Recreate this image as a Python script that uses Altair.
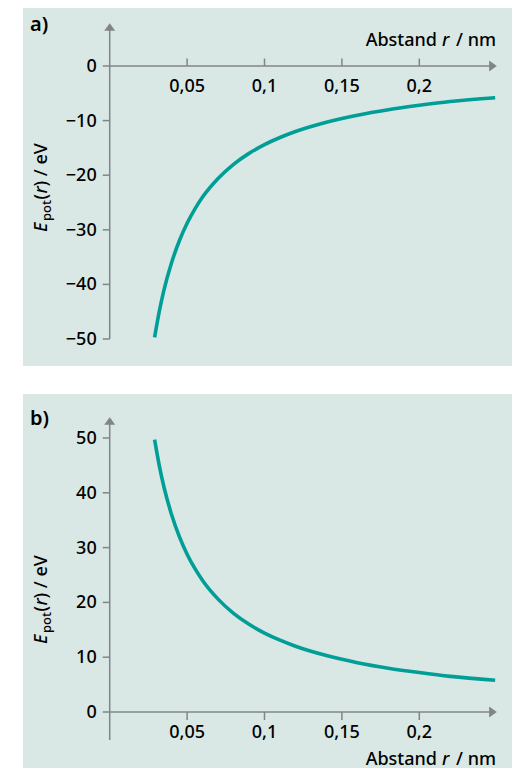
import altair as alt
import pandas as pd

# ---------------- data ----------------
r_nm = [0.029, 0.032, 0.035, 0.04, 0.045, 0.05, 0.055, 0.06, 0.07, 0.08,
        0.09, 0.1, 0.11, 0.12, 0.14, 0.16, 0.18, 0.2, 0.22, 0.249]
E_a = [-49.7, -45.0, -41.1, -36.0, -32.0, -28.8, -26.2, -24.0, -20.6, -18.0,
       -16.0, -14.4, -13.1, -12.0, -10.3, -9.0, -8.0, -7.2, -6.5, -5.8]
E_b = [49.7, 45.0, 41.1, 36.0, 32.0, 28.8, 26.2, 24.0, 20.6, 18.0,
       16.0, 14.4, 13.1, 12.0, 10.3, 9.0, 8.0, 7.2, 6.5, 5.8]

x_ticks = [0.05, 0.1, 0.15, 0.2]
x_tick_labels = ["0,05", "0,1", "0,15", "0,2"]
y_ticks_a = [0, -10, -20, -30, -40, -50]
y_tick_labels_a = ["0", "−10", "−20", "−30", "−40", "−50"]
y_ticks_b = [0, 10, 20, 30, 40, 50]
y_tick_labels_b = ["0", "10", "20", "30", "40", "50"]

# ---------------- style ----------------
BG = "#d9e8e4"
TEAL = "#009e97"
GREY = "#80858a"
INK = "#000000"
TXT = "Noto Sans"
FW = 500

W = 489
xs = alt.Scale(domain=[-0.05601, 0.25988], nice=False, zero=False)
ARROW_R = "M-0.7,-1L0.7,0L-0.7,1Z"
ARROW_U = "M-1,0.7L0,-0.7L1,0.7Z"


def panel(letter, E, yticks, ylabels, ydom, H, y_axis_lo, y_axis_hi,
          xtick_len, xlab_dy, xtitle_y, letter_y, ytitle_start):
    ys = alt.Scale(domain=ydom, nice=False, zero=False)

    def X(v):
        return alt.XDatum(v, type="quantitative", scale=xs, axis=None)

    def Y(v):
        return alt.YDatum(v, type="quantitative", scale=ys, axis=None)

    curve = alt.Chart(pd.DataFrame({"r": r_nm, "E": E})).mark_line(
        color=TEAL, strokeWidth=3.6, interpolate="monotone"
    ).encode(
        x=alt.X("r:Q", scale=xs, axis=None),
        y=alt.Y("E:Q", scale=ys, axis=None),
    )

    # axes
    x_axis = alt.Chart().mark_rule(color=GREY, strokeWidth=1.5).encode(
        x=X(0), x2=alt.X2Datum(0.2476), y=Y(0))
    y_axis = alt.Chart().mark_rule(color=GREY, strokeWidth=1.5).encode(
        x=X(0), y=Y(y_axis_lo), y2=alt.Y2Datum(y_axis_hi))
    x_arrow = alt.Chart().mark_point(
        shape=ARROW_R, filled=True, size=121, color=GREY, opacity=1, strokeWidth=0
    ).encode(x=X(0.2476), y=Y(0))
    y_arrow = alt.Chart().mark_point(
        shape=ARROW_U, filled=True, size=121, color=GREY, opacity=1, strokeWidth=0
    ).encode(x=X(0), y=Y(y_axis_hi))

    xt = pd.DataFrame({"r": x_ticks, "lab": x_tick_labels})
    x_tick_marks = alt.Chart(xt).mark_rule(color=GREY, strokeWidth=1.5).encode(
        x=alt.X("r:Q", scale=xs, axis=None), y=Y(0), y2=alt.Y2Datum(xtick_len))
    x_tick_text = alt.Chart(xt).mark_text(
        font=TXT, fontSize=18, fontWeight=FW, color=INK, align="center",
        baseline="alphabetic", dy=xlab_dy
    ).encode(x=alt.X("r:Q", scale=xs, axis=None), y=Y(0), text="lab:N")

    yt = pd.DataFrame({"v": yticks, "lab": ylabels})
    y_tick_marks = alt.Chart(yt).mark_rule(color=GREY, strokeWidth=1.5).encode(
        x=X(0), x2=alt.X2Datum(-0.0045), y=alt.Y("v:Q", scale=ys, axis=None))
    y_tick_text = alt.Chart(yt).mark_text(
        font=TXT, fontSize=18, fontWeight=FW, color=INK, align="right",
        baseline="middle", dx=-13, dy=1
    ).encode(x=X(0), y=alt.Y("v:Q", scale=ys, axis=None), text="lab:N")

    # panel letter
    let = alt.Chart().mark_text(
        font=TXT, fontSize=20, fontWeight=600, color=INK, align="left",
        baseline="alphabetic", text=letter
    ).encode(x=alt.value(7), y=alt.value(letter_y))

    # x title pieces: "Abstand r / nm"
    def xt_piece(txt, xpx, align, style="normal"):
        return alt.Chart().mark_text(
            font=TXT, fontSize=18, fontWeight=FW, color=INK, align=align,
            baseline="alphabetic", fontStyle=style, text=txt
        ).encode(x=alt.value(xpx), y=alt.value(xtitle_y))

    xtitle = [
        xt_piece("Abstand", 414, "right"),
        xt_piece("r", 419, "left", "italic"),
        xt_piece("/ nm", 473, "right"),
    ]

    # y title pieces: "E_pot(r) / eV" rotated, laid out bottom to top
    def yt_piece(txt, xpx, ypx, size=18, style="normal"):
        return alt.Chart().mark_text(
            font=TXT, fontSize=size, fontWeight=FW, color=INK, align="left",
            baseline="alphabetic", angle=270, fontStyle=style, text=txt
        ).encode(x=alt.value(xpx), y=alt.value(ypx))

    S = ytitle_start
    ytitle = [
        yt_piece("E", 24, S, style="italic"),
        yt_piece("pot", 28, S - 11, size=13),
        yt_piece("(", 24, S - 32.5),
        yt_piece("r", 24, S - 38.5, style="italic"),
        yt_piece(") / eV", 24, S - 45.5),
    ]

    layers = [curve, x_axis, y_axis, x_arrow, y_arrow, x_tick_marks, x_tick_text,
              y_tick_marks, y_tick_text, let] + xtitle + ytitle
    return alt.layer(*layers).properties(width=W, height=H)


# panel a: plot area spans page y 8..366, zero line at page y 66
pa = panel("a)", E_a, y_ticks_a, y_tick_labels_a, [-54.945, 10.623], 358,
           -50, 7.14, 1.37, 25.7, 37.7, 23, 224)

# panel b: plot area spans page y 394..768, zero line at page y 712
pb = panel("b)", E_b, y_ticks_b, y_tick_labels_b, [-10.219, 58.03], 374,
           -5.11, 53.1, -1.46, 26, 371, 31, 250)

chart = alt.vconcat(pa, pb, spacing=28).properties(
    padding={"left": 15, "top": 0, "right": 0, "bottom": 0},
    background="white",
).configure_view(stroke=None, fill=BG)

chart.save("out.html", embed_options={"renderer": "svg", "actions": False})
